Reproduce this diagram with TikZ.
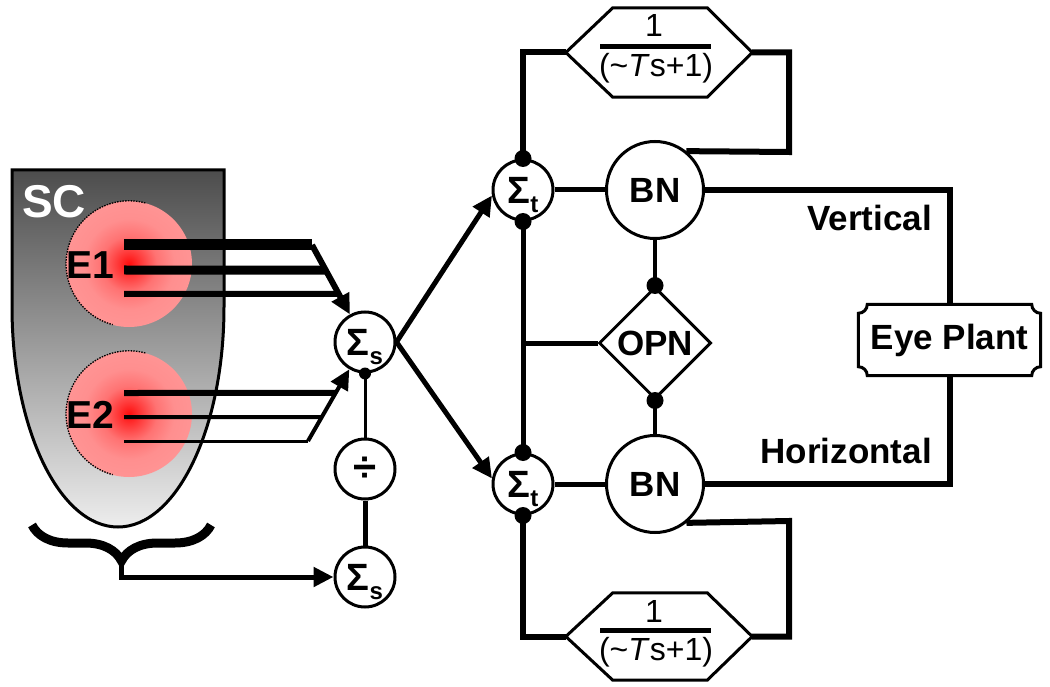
\documentclass[tikz,border=0pt]{standalone}
\usepackage{fontspec}
\setmainfont{Liberation Sans}
\usetikzlibrary{arrows.meta,shapes.geometric,calc,decorations.pathreplacing}
\pgfdeclareradialshading{redglow}{\pgfpoint{0bp}{0bp}}{rgb(0bp)=(1,0.05,0.05); rgb(4bp)=(1,0.2,0.2); rgb(11bp)=(1,0.45,0.45); rgb(18bp)=(1,0.56,0.56); rgb(25bp)=(1,0.58,0.58); rgb(50bp)=(1,0.58,0.58)}
\newcommand\sigmasub[1]{\fontsize{38}{38}\selectfont Σ\raisebox{-9pt}[0pt][0pt]{\fontsize{24}{24}\selectfont #1}}
\begin{document}
\begin{tikzpicture}[x=1pt,y=-1pt,
  sumnode/.style={circle,draw,fill=white,line width=3pt,minimum size=60,inner sep=0pt,font=\bfseries},
  bignode/.style={circle,draw,fill=white,line width=3pt,minimum size=97,inner sep=0pt,font=\bfseries\fontsize{35}{35}\selectfont},
  glow/.style={circle,minimum size=126,inner sep=0pt,shade,shading=redglow},
  rim/.style={draw=black,line width=1.3pt,dash pattern=on 1.5pt off 1.2pt},
  bigdot/.style={circle,fill=black,inner sep=0pt,minimum size=17},
  smalldot/.style={circle,fill=black,inner sep=0pt,minimum size=12},
  lbl/.style={inner sep=0pt,font=\bfseries\fontsize{35}{35}\selectfont},
  frac/.style={inner sep=0pt,anchor=base,font=\fontsize{32}{32}\selectfont},
  arr/.style={-{Triangle[length=20pt,width=19pt]}},
  edge/.style={line width=3pt}]
\useasboundingbox (0,0) rectangle (1050,687);

% superior colliculus shape
\draw[line width=3pt, top color=black!70, bottom color=black!7]
  (12,170) -- (12,307) arc[start angle=180,end angle=0,x radius=106,y radius=220] -- (224,170) -- cycle;
\node[glow] (e1) at (129,264) {};
\node[glow] (e2) at (129,414) {};
\draw[rim] (e1.75) arc[start angle=-75,end angle=-255,radius=63];
\draw[rim] (e2.75) arc[start angle=-75,end angle=-255,radius=63];
\node[anchor=base west,inner sep=0pt,text=white,font=\bfseries\fontsize{46}{46}\selectfont] (sclabel) at (22,218) {SC};
\node[anchor=base west,inner sep=0pt,font=\bfseries\fontsize{39}{39}\selectfont] (e1l) at (66,279) {E1};
\node[anchor=base west,inner sep=0pt,font=\bfseries\fontsize{39}{39}\selectfont] (e2l) at (66,428) {E2};

% summing / dividing nodes
\node[sumnode] (ss) at (365,342) {\sigmasub{s}};
\node[sumnode,font=\bfseries\fontsize{42}{42}\selectfont] (dv) at (365,469) {÷};
\node[sumnode] (ss2) at (365,577) {\sigmasub{s}};

% E1 lines
\coordinate (a1) at (124,245);
\coordinate (a2) at (124,270);
\coordinate (a3) at (124,294);
\coordinate (j1) at (312,245);
\coordinate (k2) at ($(j1)!0.258!(ss)$);
\coordinate (k3) at ($(j1)!0.505!(ss)$);
\draw[line width=11pt] (a1) -- (j1);
\draw[line width=9pt] (a2) -- (k2);
\draw[line width=6pt] (a3) -- (k3);
\draw[line width=6pt,arr] (j1) -- (ss);

% E2 lines
\coordinate (a4) at (124,393);
\coordinate (a5) at (124,417);
\coordinate (a6) at (124,441);
\coordinate (j2) at (308,441);
\coordinate (k4) at ($(j2)!0.485!(ss)$);
\coordinate (k5) at ($(j2)!0.242!(ss)$);
\draw[line width=6pt] (a4) -- (k4);
\draw[line width=4pt] (a5) -- (k5);
\draw[line width=3pt] (a6) -- (j2);
\draw[line width=4pt,arr] (j2) -- (ss);

% brace
\draw[line width=9pt,decorate,decoration={brace,amplitude=36pt,mirror}] (32,525) -- (211,525);
\coordinate (bt) at (121.5,561);
\draw[line width=5pt,arr] (bt) |- (ss2);

\draw[line width=3pt] (ss.south) -- (dv);
\draw[line width=5pt] (dv) -- (ss2);
\node[smalldot] (d0) at (ss.south) {};

% right part
\node[sumnode] (st1) at (523,190) {\sigmasub{t}};
\node[sumnode] (st2) at (523,484) {\sigmasub{t}};
\node[bignode] (bn1) at (655,190) {BN};
\node[bignode] (bn2) at (655,484) {BN};
\node[diamond,aspect=1,draw,fill=white,line width=3pt,minimum size=112,inner sep=0pt,font=\bfseries\fontsize{35}{35}\selectfont] (op) at (655,343) {OPN};
\node[lbl,minimum width=182,minimum height=71] (ep) at (949.5,340) {Eye Plant};
\node[minimum width=186,minimum height=89,inner sep=0pt] (hx1) at (659,52.5) {};
\node[minimum width=186,minimum height=87,inner sep=0pt] (hx2) at (659,636.5) {};

\draw[line width=5pt,arr] (ss.east) -- (st1.190);
\draw[line width=5pt,arr] (ss.east) -- (st2.170);

% hexagons
\foreach \h in {hx1,hx2}{
  \draw[edge,fill=white] (\h.west) -- ($(\h.north west)+(47,0)$) -- ($(\h.north east)+(-45,0)$) -- (\h.east)
    -- ($(\h.south east)+(-45,0)$) -- ($(\h.south west)+(47,0)$) -- cycle;
}
\node[frac] (h1n) at (654,37) {1};
\draw[line width=5pt] (600,47) -- (711,47);
\node[frac] (h1d) at (656,77) {(\textasciitilde\textit{T}s+1)};
\node[frac] (h2n) at (654,622) {1};
\draw[line width=5pt] (600,630) -- (711,630);
\node[frac] (h2d) at (656,660) {(\textasciitilde\textit{T}s+1)};

% eye plant border
\draw[edge] ($(ep.north west)+(9,0)$) -- ($(ep.north east)+(-9,0)$)
  arc[start angle=180,end angle=90,radius=9] -- ($(ep.south east)+(0,-9)$)
  arc[start angle=270,end angle=180,radius=9] -- ($(ep.south west)+(9,0)$)
  arc[start angle=0,end angle=-90,radius=9] -- ($(ep.north west)+(0,9)$)
  arc[start angle=90,end angle=0,radius=9] -- cycle;

% loops
\coordinate (c1) at (789,152);
\coordinate (c2) at (789,521);
\draw[line width=6pt] (st1.north) |- (hx1.west);
\draw[line width=6pt] (hx1.east) -| (c1) -- (bn1.51);
\draw[line width=6pt] (st2.south) |- (hx2.west);
\draw[line width=6pt] (hx2.east) -| (c2) -- (bn2.-51);

\draw[line width=5pt] (st1) -- (bn1);
\draw[line width=5pt] (st2) -- (bn2);
\draw[line width=5pt] (st1) -- (st2);
\draw[line width=5pt] (op.west) -- (op.west -| st1);
\draw[line width=4pt] (bn1) -- (op);
\draw[line width=4pt] (op) -- (bn2);
\draw[line width=6pt] (bn1.east) -| (ep.north);
\draw[line width=6pt] (bn2.east) -| (ep.south);

\node[bigdot] (d1) at (st1.north) {};
\node[bigdot] (d2) at (st1.south) {};
\node[bigdot] (d3) at (st2.north) {};
\node[bigdot] (d4) at (st2.south) {};
\node[bigdot] (d5) at (op.north) {};
\node[bigdot] (d6) at (op.south) {};

\node[lbl,anchor=base east] (vl) at (932,231) {Vertical};
\node[lbl,anchor=base east] (hl) at (932,463) {Horizontal};
\end{tikzpicture}
\end{document}
